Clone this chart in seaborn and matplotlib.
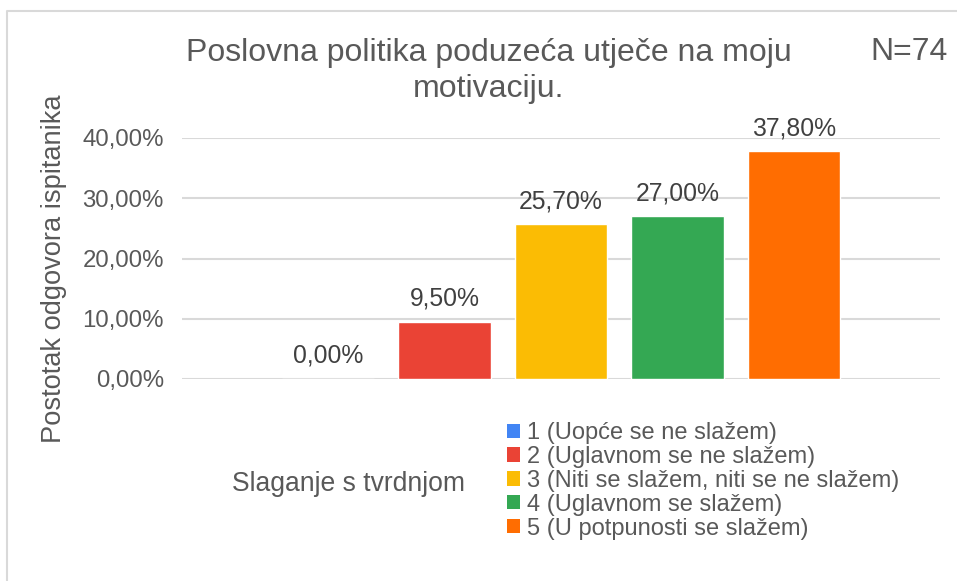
import matplotlib
matplotlib.use("Agg")
import matplotlib.pyplot as plt
from matplotlib.lines import Line2D
from matplotlib.patches import Patch
import seaborn as sns
import pandas as pd

# Survey answers (Likert scale) and share of respondents per answer
answers = [
    "1 (Uopće se ne slažem)",
    "2 (Uglavnom se ne slažem)",
    "3 (Niti se slažem, niti se ne slažem)",
    "4 (Uglavnom se slažem)",
    "5 (U potpunosti se slažem)",
]
shares = [0.0, 9.5, 25.7, 27.0, 37.8]
colors = ["#4285F4", "#EA4335", "#FBBC04", "#34A853", "#FF6D01"]
yticks = [0, 10, 20, 30, 40]

title = "Poslovna politika poduzeća utječe na moju\nmotivaciju."
sample_note = "N=74"
y_label = "Postotak odgovora ispitanika"
category_label = "Slaganje s tvrdnjom"

df = pd.DataFrame({"odgovor": answers, "postotak": shares})

sns.set_theme(style="white")
plt.rcParams["font.family"] = ["Liberation Sans", "DejaVu Sans"]
text_color = "#595959"

W, H = 957, 581
fig = plt.figure(figsize=(W / 100, H / 100), dpi=100)
ax = fig.add_axes([182 / W, 1 - 379 / H, (940 - 182) / W, (379 - 138) / H])

sns.barplot(data=df, x="odgovor", y="postotak", hue="odgovor", order=answers,
            hue_order=answers, palette=colors, dodge=False, legend=False,
            width=0.79, saturation=1, ax=ax)

ax.set_xlim(-1.253, 5.253)
ax.set_ylim(0, 40)
ax.set_yticks(yticks)
ax.set_yticklabels([f"{v:.2f}".replace(".", ",") + "%" for v in yticks],
                   fontsize=17.3, color=text_color)
ax.set_xticks([])
ax.set_xlabel("")
ax.set_ylabel("")
ax.tick_params(axis="y", length=0, pad=13)
ax.grid(axis="y", color="#d9d9d9", linewidth=1.5)
ax.set_axisbelow(True)
for s in ax.spines.values():
    s.set_visible(False)

# value labels above each bar
for i, v in enumerate(shares):
    ax.annotate(f"{v:.2f}".replace(".", ",") + "%", (i, v), xytext=(0, 8),
                textcoords="offset points", ha="center", va="bottom",
                fontsize=17.8, color="#404040", clip_on=False)

fig.text(488.5 / W, 1 - 71 / H, title, ha="center", va="center", fontsize=23,
         color=text_color, linespacing=1.25)
fig.text(948 / W, 1 - 52 / H, sample_note, ha="right", va="center",
         fontsize=23, color=text_color)
fig.text(54 / W, 1 - 269 / H, y_label, rotation=90, ha="center", va="center",
         fontsize=19.6, color=text_color)
fig.text(349 / W, 1 - 484 / H, category_label, ha="center", va="center",
         fontsize=19.1, color=text_color)

handles = [Patch(facecolor=c, edgecolor="none") for c in colors]
fig.legend(handles, answers, loc="upper left",
           bbox_to_anchor=(507 / W, 1 - 422 / H), frameon=False,
           fontsize=17, labelcolor=text_color, handlelength=0.55,
           handleheight=0.55, handletextpad=0.3, labelspacing=0.08,
           borderaxespad=0, borderpad=0)

# chart frame (only top and left edges fall inside the image)
fig.add_artist(Line2D([7.5 / W, 7.5 / W, 1], [0, 1 - 10.5 / H, 1 - 10.5 / H],
                      transform=fig.transFigure, color="#d9d9d9", linewidth=1.5))

fig.savefig("out.png", dpi=100, facecolor="white")
